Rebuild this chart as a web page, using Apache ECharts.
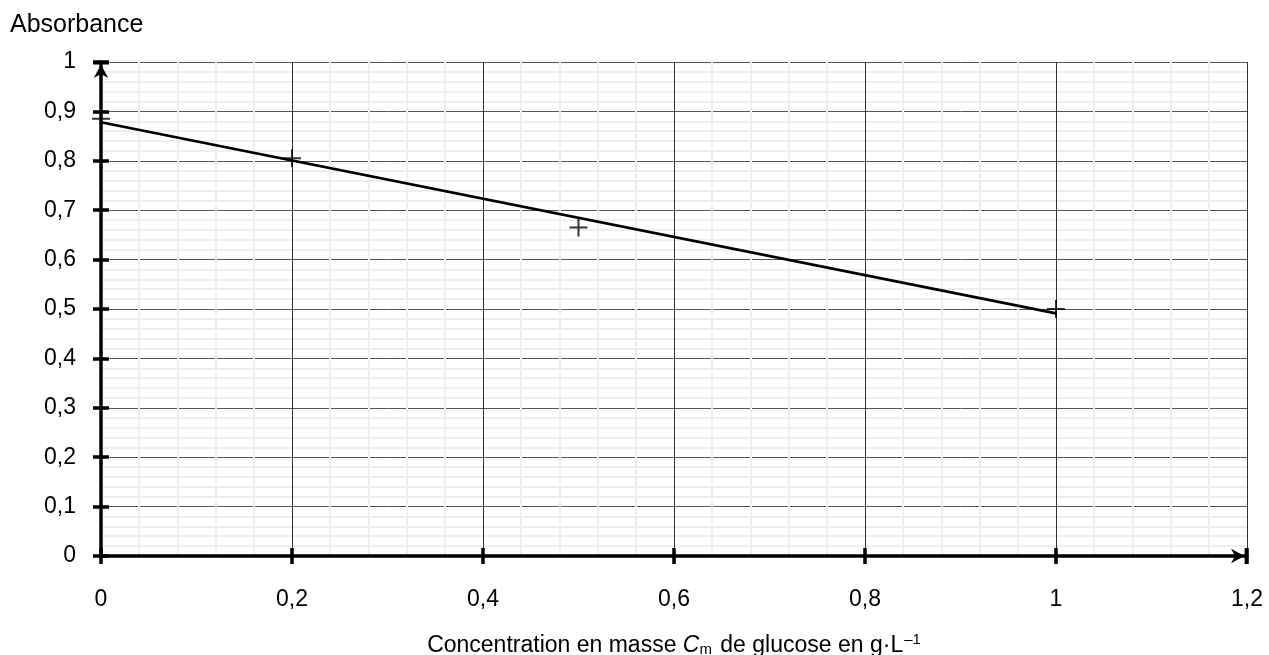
<!DOCTYPE html>
<html>
<head>
<meta charset="utf-8">
<script src="https://cdn.jsdelivr.net/npm/echarts@6/dist/echarts.min.js"></script>
<style>
  html, body { margin: 0; padding: 0; background: #fff; }
  #chart { width: 1269px; height: 655px; }
</style>
</head>
<body>
<div id="chart"></div>
<script>
// mesures (concentration en g/L, absorbance)
var concentrations = [0, 0.2, 0.5, 1];
var absorbances = [0.885, 0.805, 0.665, 0.5];
// droite tracée sur le graphique
var droiteX = [0, 1];
var droiteY = [0.878, 0.491];

var xMin = 0, xMax = 1.2, xStep = 0.2;
var yMin = 0, yMax = 1, yStep = 0.1;

var font = 'Liberation Sans, Arial, sans-serif';

function virgule(v){
	var s = String(Math.round(v * 10) / 10);
	return s.replace('.', ',');
}

// fleche + barre en bout d'axe (dessinée vers le haut)
var flecheAxe = 'path://M0,0L20,0L20,3L0,3Z M10,3L19,20L10,15L1,20Z';

var pointsData = concentrations.map(function(c, i){ return [c, absorbances[i]]; });
var droiteData = droiteX.map(function(c, i){ return [c, droiteY[i]]; });

var chart = echarts.init(document.getElementById('chart'));

var traitAxe = { color: '#000', width: 3.5 };

var axeCommun = {
	axisLine: {
		show: true,
		lineStyle: traitAxe,
		symbol: ['none', flecheAxe],
		symbolSize: [16, 17],
		symbolOffset: [0, -8]
	},
	axisTick: { show: true, length: 8, lineStyle: traitAxe },
	minorTick: { show: false, splitNumber: 5 },
	minorSplitLine: { show: true, lineStyle: { color: '#eeeeee', width: 2 } }
};

// second axe : partie intérieure des graduations
function axeGraduations(pos, min, max, step){
	return {
		type: 'value', position: pos,
		min: min, max: max, interval: step,
		axisLine: { show: false },
		axisLabel: { show: false },
		splitLine: { show: false },
		axisTick: { show: true, inside: true, length: 8, lineStyle: traitAxe }
	};
}

var option = {
	animation: false,
	backgroundColor: '#fff',
	grid: { left: 101, right: 22, top: 62, bottom: 99, containLabel: false, outerBoundsMode: 'none' },
	graphic: [{
		type: 'text',
		left: 10,
		top: 13,
		style: { text: 'Absorbance', fill: '#000', font: '25px ' + font }
	}],
	xAxis: [
		Object.assign({}, axeCommun, {
			type: 'value',
			min: xMin, max: xMax, interval: xStep,
			splitLine: { show: true, lineStyle: { color: '#333', width: 1 } },
			axisLabel: { formatter: virgule, color: '#000', fontSize: 23, fontFamily: font, margin: 32 },
			name: '{n|Concentration en masse }{i|C}{s|m}{n| de glucose en g·L}{p|–1}',
			nameLocation: 'middle',
			nameGap: 76,
			nameTextStyle: {
				color: '#000', fontFamily: font, fontSize: 23,
				rich: {
					n: { fontSize: 23, fontFamily: font, color: '#000' },
					i: { fontSize: 23, fontFamily: font, color: '#000', fontStyle: 'italic' },
					s: { fontSize: 15, fontFamily: font, color: '#000', padding: [9, 2, 0, 0] },
					p: { fontSize: 15, fontFamily: font, color: '#000', padding: [0, 0, 12, 1] }
				}
			}
		}),
		axeGraduations('bottom', xMin, xMax, xStep)
	],
	yAxis: [
		Object.assign({}, axeCommun, {
			type: 'value',
			min: yMin, max: yMax, interval: yStep,
			splitLine: { show: true, lineStyle: { color: '#555', width: 1 } },
			axisLabel: { formatter: virgule, color: '#000', fontSize: 23, fontFamily: font, margin: 25 }
		}),
		axeGraduations('left', yMin, yMax, yStep)
	],
	series: [
		{
			type: 'line',
			data: droiteData,
			showSymbol: false,
			symbol: 'none',
			lineStyle: { color: '#000', width: 2.7 },
			z: 5
		},
		{
			type: 'scatter',
			data: pointsData,
			symbol: 'path://M10,0L10,20M0,10L20,10',
			symbolSize: 18,
			itemStyle: { color: 'none', borderColor: '#000', borderWidth: 2 },
			z: 6
		}
	]
};

chart.setOption(option);
</script>
</body>
</html>
